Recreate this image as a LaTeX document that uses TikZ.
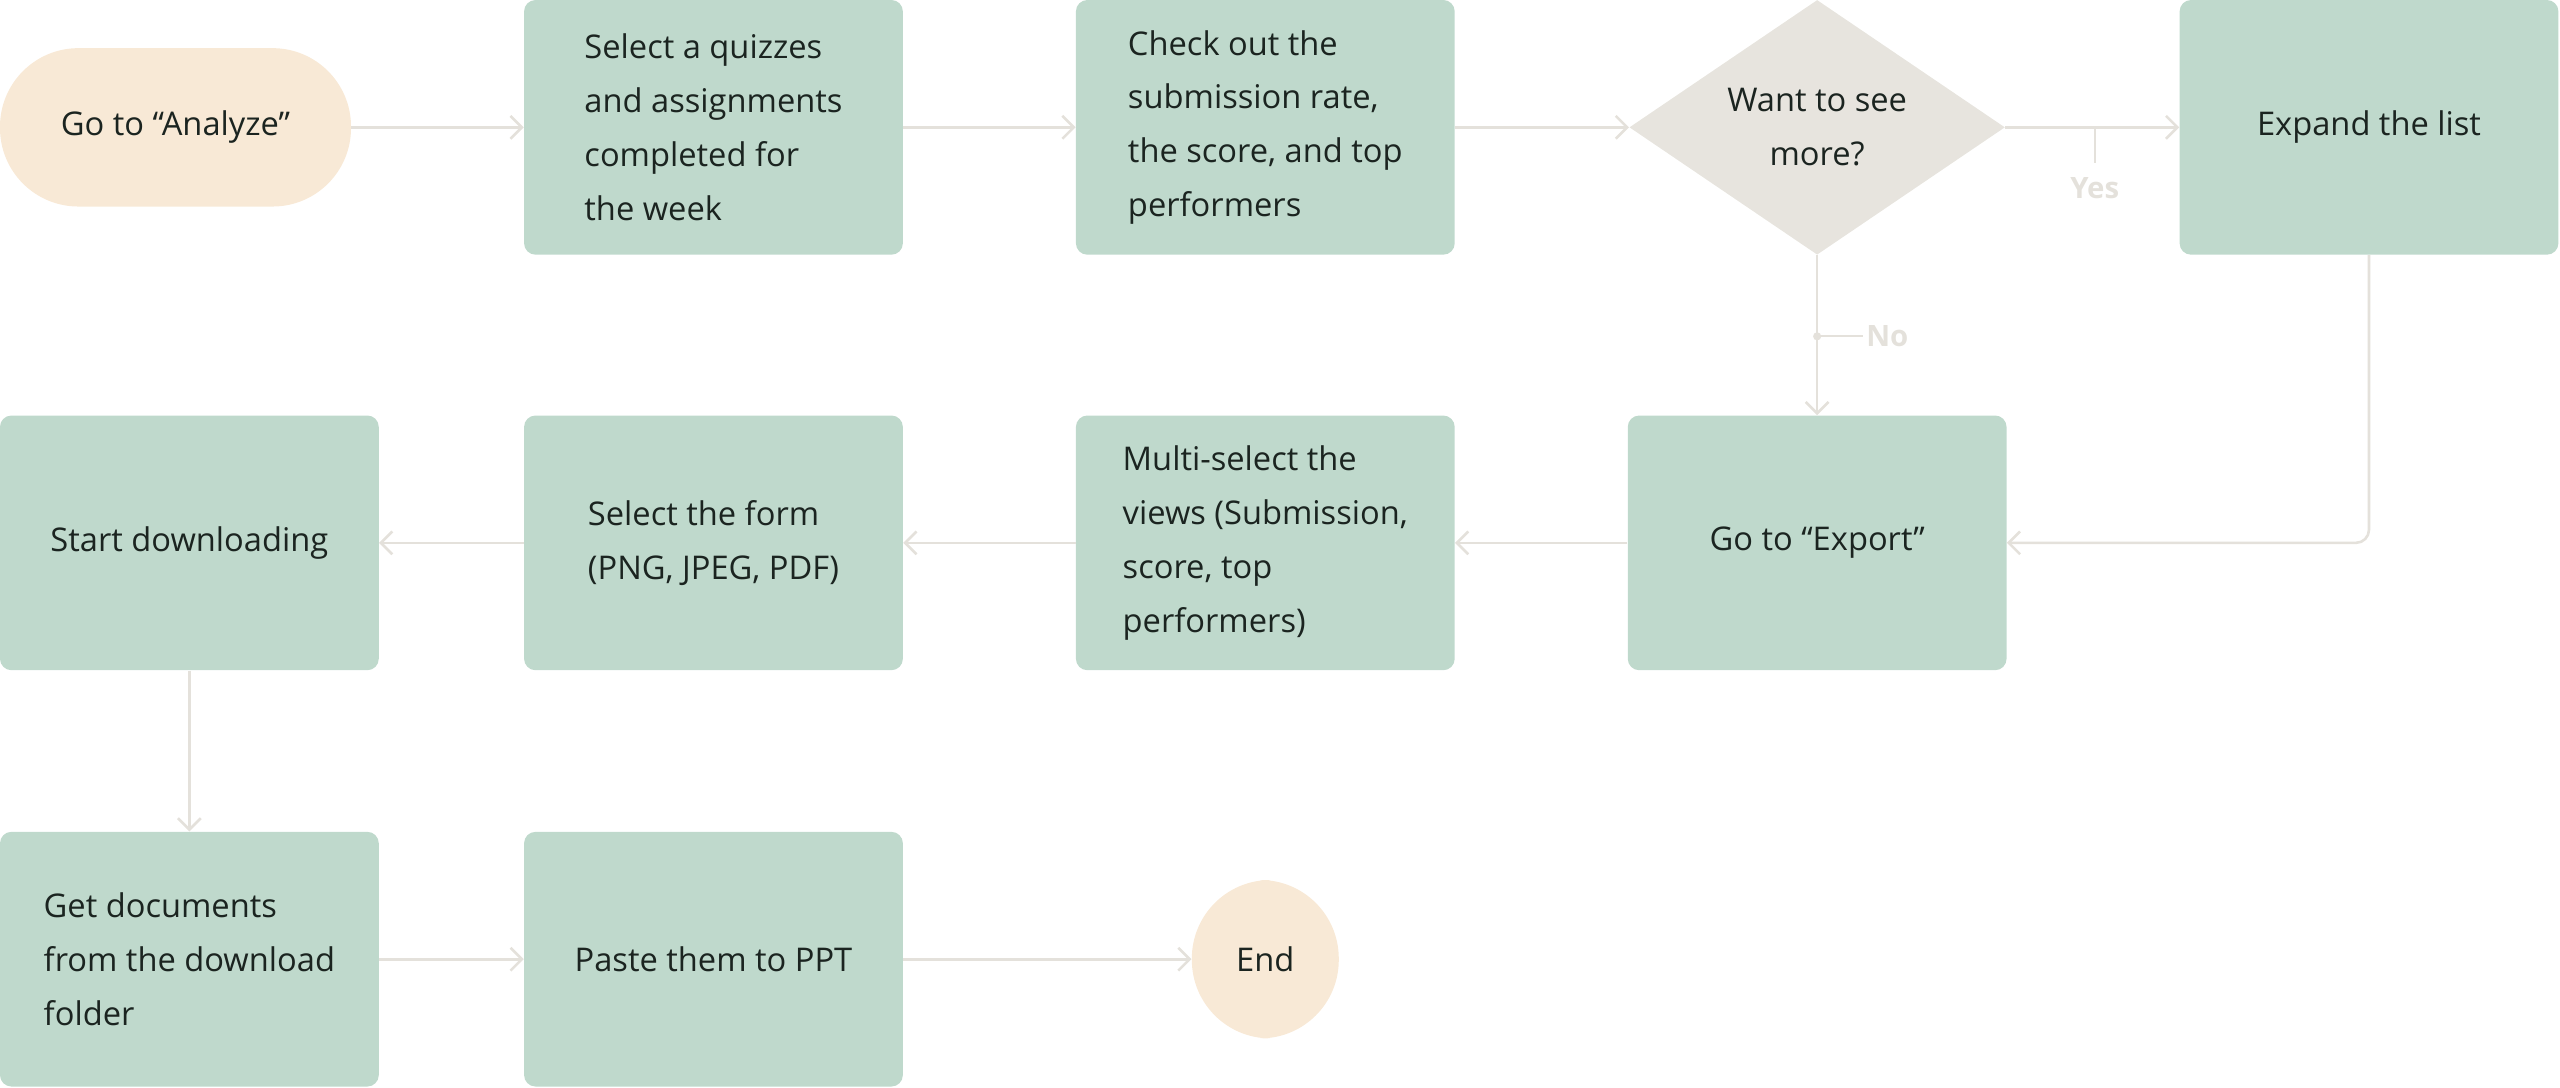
\documentclass[tikz,border=0pt]{standalone}
\usepackage{fontspec}
\setmainfont{Open Sans}
\usetikzlibrary{arrows.meta,shapes.geometric}
\definecolor{gbox}{HTML}{BFD9CC}
\definecolor{beige}{HTML}{F8E9D6}
\definecolor{dia}{HTML}{E7E4DE}
\definecolor{ln}{HTML}{E4E1DB}
\definecolor{tx}{HTML}{1B2420}
\begin{document}
\begin{tikzpicture}[x=1pt,y=-1pt,
 box/.style={fill=gbox,rounded corners=7pt,minimum width=232pt,minimum height=156pt,inner sep=0pt,align=left,text=tx,font=\fontsize{20}{33}\selectfont},
 pill/.style={fill=beige,rounded corners=48pt,minimum height=97pt,inner sep=0pt,text=tx,font=\fontsize{20}{33}\selectfont},
 ar/.style={draw=ln,line width=1.6pt,-{Straight Barb[length=7pt,width=14pt]}},
 lab/.style={text=ln,font=\fontsize{18}{20}\selectfont\bfseries}]
\useasboundingbox (0,0) rectangle (1568,666);
\node[pill,minimum width=215pt] (s) at (107.5,78) {Go to “Analyze”};
\node[box] (b1) at (437,78) {Select a quizzes\\and assignments\\completed for\\the week};
\node[box] (b2) at (775,78) {Check out the\\submission rate,\\the score, and top\\performers};
\node[diamond,fill=dia,minimum width=230pt,minimum height=156pt,inner sep=0pt,aspect=1.47,text=tx,align=center,font=\fontsize{20}{33}\selectfont] (d) at (1113,78) {Want to see\\more?};
\node[box] (b3) at (1451,78) {Expand the list};
\node[box] (ex) at (1113,332.5) {Go to “Export”};
\node[box] (ms) at (775,332.5) {Multi-select the\\views (Submission,\\score, top\\performers)};
\node[box] (sf) at (437,332.5) {Select the form\\(PNG, JPEG, PDF)};
\node[box] (sd) at (116,332.5) {Start downloading};
\node[box] (gd) at (116,587.5) {Get documents\\from the download\\folder};
\node[box] (pp) at (437,587.5) {Paste them to PPT};
\node[pill,minimum width=90pt] (e) at (775,587.5) {End};
\draw[ar] (s) -- (b1);
\draw[ar] (b1) -- (b2);
\draw[ar] (b2) -- (d);
\draw[ar] (d) -- (b3);
\draw[ar] (d) -- (ex);
\draw[ar,rounded corners=8pt] (b3.south) |- (ex.east);
\draw[ar] (ex) -- (ms);
\draw[ar] (ms) -- (sf);
\draw[ar] (sf) -- (sd);
\draw[ar] (sd) -- (gd);
\draw[ar] (gd) -- (pp);
\draw[ar] (pp) -- (e);
\coordinate (yt) at (1283,78);
\draw[ln,line width=1.2pt] (yt) -- ++(0,22);
\node[lab] (y) at (1283,115) {Yes};
\coordinate (nt) at (1113,206);
\fill[ln] (nt) circle (2.5pt);
\draw[ln,line width=1.2pt] (nt) -- ++(28,0);
\node[lab] (n) at (1156,206) {No};
\end{tikzpicture}
\end{document}
